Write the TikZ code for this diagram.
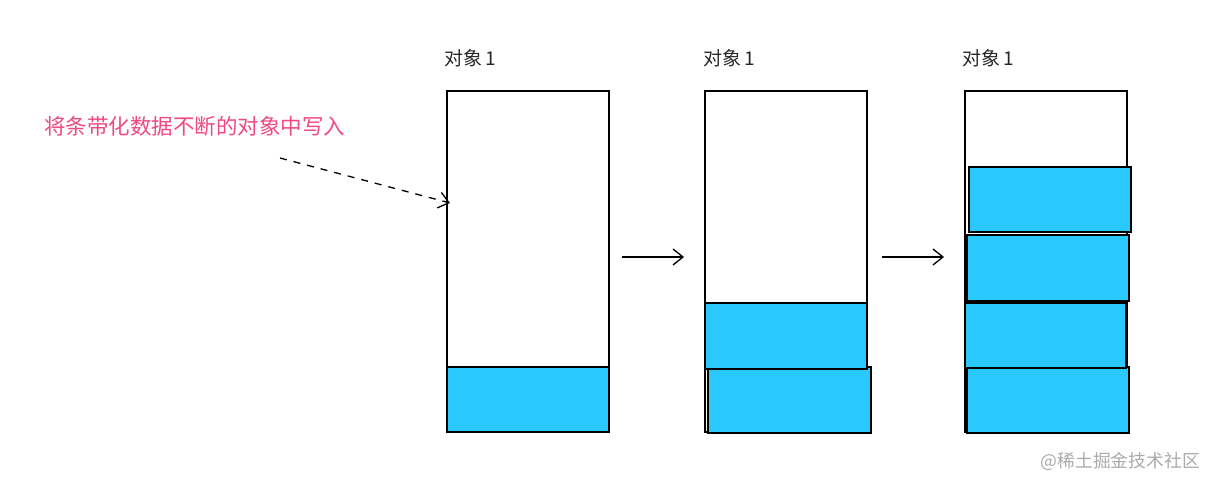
\documentclass[tikz,border=0pt]{standalone}
\usepackage{fontspec}
\setmainfont{Noto Sans CJK SC}
\newfontfamily\cjk{Noto Sans CJK SC}
\usetikzlibrary{arrows.meta}
\definecolor{blk}{RGB}{41,201,253}
\definecolor{pinktxt}{RGB}{240,72,130}
\definecolor{wmark}{RGB}{170,170,170}
\begin{document}
\begin{tikzpicture}[x=1pt,y=-1pt,
  objbox/.style={draw=black,line width=2.2pt,fill=white},
  blkbox/.style={draw=black,line width=2.2pt,fill=blk},
  lbl/.style={anchor=west,inner sep=0pt,font=\cjk\fontsize{19}{19}\selectfont,text=black!85},
  flow/.style={line width=1.3pt,-{Straight Barb[length=10pt,width=16pt,line width=1.3pt]}}]
\useasboundingbox (0,0) rectangle (1216,486);
% object 1
\node[lbl] (l1) at (444,58) {对象\,1};
\draw[objbox] (447,91) rectangle (609,432);
\coordinate (b1w) at (450,203);
\draw[blkbox] (447,367) rectangle (609,432);
% object 2
\node[lbl] (l2) at (703,58) {对象\,1};
\draw[objbox] (705,91) rectangle (867,432);
\draw[blkbox] (708,367) rectangle (871,433);
\draw[blkbox] (705,303) rectangle (867,369);
% object 3
\node[lbl] (l3) at (962,58) {对象\,1};
\draw[objbox] (965,91) rectangle (1127,432);
\draw[blkbox] (967,367) rectangle (1129,433);
\draw[blkbox] (965,303) rectangle (1126,368);
\draw[blkbox] (967,235) rectangle (1129,301);
\draw[blkbox] (969,167) rectangle (1131,232);
% arrows
\coordinate (a1s) at (622,257); \coordinate (a1e) at (684,257);
\coordinate (a2s) at (882,257); \coordinate (a2e) at (944,257);
\draw[flow] (a1s) -- (a1e);
\draw[flow] (a2s) -- (a2e);
% dashed arrow and note
\node[anchor=west,inner sep=0pt,text=pinktxt,font=\cjk\fontsize{21.5}{22}\selectfont] (note) at (44,126) {将条带化数据不断的对象中写入};
\coordinate (ds) at (280,158);
\draw[flow,dashed,dash pattern=on 7pt off 7pt] (ds) -- (b1w);
% watermark
\node[anchor=east,inner sep=0pt,text=wmark,font=\cjk\fontsize{17.8}{18}\selectfont] (wm) at (1200,461) {@稀土掘金技术社区};
\end{tikzpicture}
\end{document}
